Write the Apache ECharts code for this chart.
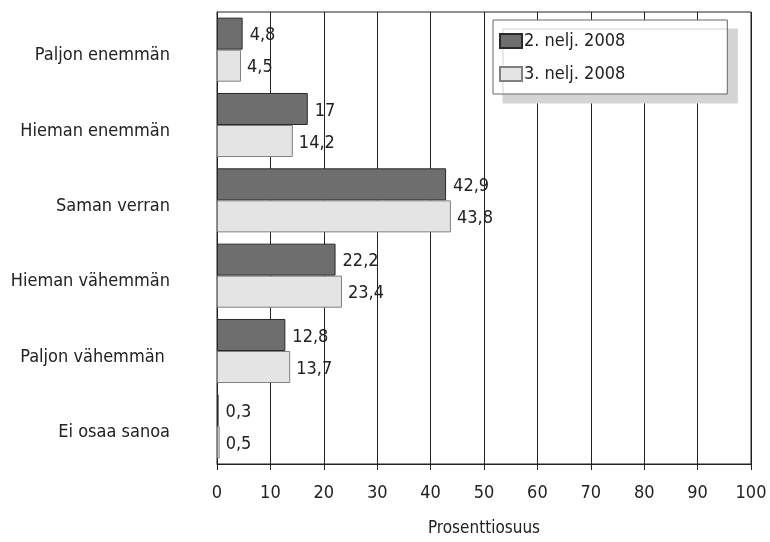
<!DOCTYPE html>
<html>
<head>
<meta charset="utf-8">
<script src="https://cdn.jsdelivr.net/npm/echarts@6/dist/echarts.min.js"></script>
<style>
  html, body { margin: 0; padding: 0; background: #fff; }
  #chart { width: 770px; height: 542px; }
</style>
</head>
<body>
<div id="chart"></div>
<script>
// Answer categories, top to bottom
const categories = ['Paljon enemmän', 'Hieman enemmän', 'Saman verran', 'Hieman vähemmän', 'Paljon vähemmän ', 'Ei osaa sanoa'];
// Shares (%) per quarter
const q2Values = [4.8, 17, 42.9, 22.2, 12.8, 0.3];
const q3Values = [4.5, 14.2, 43.8, 23.4, 13.7, 0.5];
const seriesNames = ['2. nelj. 2008', '3. nelj. 2008'];
const xTicks = [0, 10, 20, 30, 40, 50, 60, 70, 80, 90, 100];

const FONT = '"DejaVu Sans Condensed", Roboto, sans-serif';
const chart = echarts.init(document.getElementById('chart'));

const fmtComma = p => String(p.value).replace('.', ',');

chart.setOption({
  animation: false,
  textStyle: { fontFamily: FONT, color: '#222' },
  grid: {
    left: 217, right: 19, top: 12, bottom: 76,
    show: true, borderColor: '#222', borderWidth: 1, backgroundColor: 'transparent'
  },
  legend: {
    orient: 'vertical',
    left: 493, top: 20,
    padding: [12, 102, 11, 6],
    itemGap: 15,
    itemWidth: 22, itemHeight: 14,
    icon: 'rect',
    backgroundColor: '#fff',
    borderColor: '#666', borderWidth: 1,
    shadowColor: '#d4d4d4', shadowBlur: 0, shadowOffsetX: 10, shadowOffsetY: 9,
    textStyle: { fontFamily: FONT, fontSize: 18, color: '#222', padding: [0, 0, 0, -3] },
    data: seriesNames
  },
  xAxis: {
    type: 'value',
    min: xTicks[0], max: xTicks[xTicks.length - 1], interval: 10,
    name: 'Prosenttiosuus', nameLocation: 'middle', nameGap: 56,
    nameTextStyle: { fontFamily: FONT, fontSize: 17, color: '#222' },
    axisLine: { show: true, lineStyle: { color: '#222', width: 1 } },
    axisTick: { show: true, length: 6, lineStyle: { color: '#222' } },
    axisLabel: { fontFamily: FONT, fontSize: 18, color: '#222', margin: 20 },
    splitLine: { show: true, lineStyle: { color: '#222', width: 1 } }
  },
  yAxis: {
    type: 'category',
    inverse: true,
    data: categories,
    axisLine: { show: true, lineStyle: { color: '#222' } },
    axisTick: { show: false },
    axisLabel: {
      fontFamily: FONT, fontSize: 18, color: '#222', margin: 47,
      formatter: v => '{c|' + v + '}',
      rich: { c: { fontFamily: FONT, fontSize: 18, color: '#222', lineHeight: 30, verticalAlign: 'bottom' } }
    }
  },
  series: [
    {
      name: seriesNames[0], type: 'bar', data: q2Values,
      barGap: '0%', barCategoryGap: '15%',
      itemStyle: { color: '#6e6e6e', borderColor: '#2a2a2a', borderWidth: 1 },
      label: { show: true, position: 'right', distance: 7, formatter: fmtComma, offset: [0, 2],
               fontFamily: FONT, fontSize: 18, color: '#222' }
    },
    {
      name: seriesNames[1], type: 'bar', data: q3Values,
      itemStyle: { color: '#e4e4e4', borderColor: '#808080', borderWidth: 1 },
      label: { show: true, position: 'right', distance: 6, formatter: fmtComma, offset: [0, 2],
               fontFamily: FONT, fontSize: 18, color: '#222' }
    }
  ]
});
</script>
</body>
</html>
